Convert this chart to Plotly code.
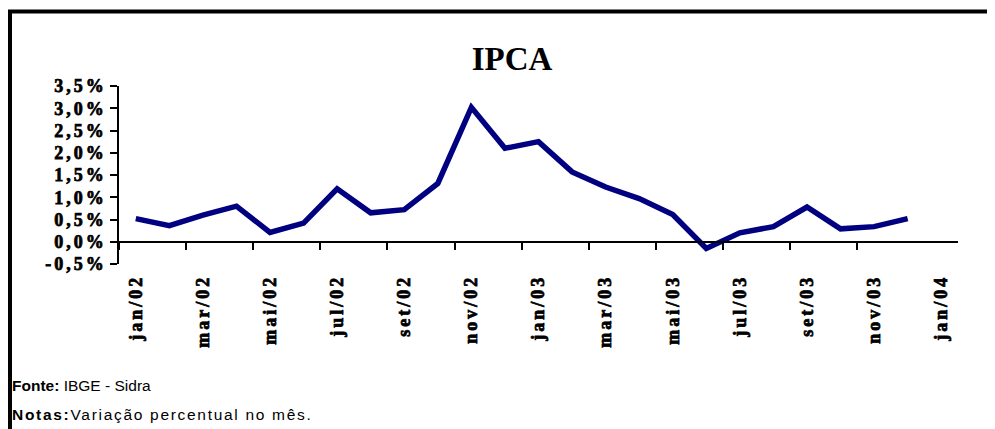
import plotly.graph_objects as go

# ---- data ----
months = ["jan/02", "fev/02", "mar/02", "abr/02", "mai/02", "jun/02", "jul/02", "ago/02",
          "set/02", "out/02", "nov/02", "dez/02", "jan/03", "fev/03", "mar/03", "abr/03",
          "mai/03", "jun/03", "jul/03", "ago/03", "set/03", "out/03", "nov/03", "dez/03",
          "jan/04"]
ipca = [0.52, 0.36, 0.60, 0.80, 0.21, 0.42, 1.19, 0.65, 0.72, 1.31, 3.02, 2.10,
        2.25, 1.57, 1.23, 0.97, 0.61, -0.15, 0.20, 0.34, 0.78, 0.29, 0.34, 0.52]
x_tick_labels = months[::2]
y_tick_values = [-0.5, 0.0, 0.5, 1.0, 1.5, 2.0, 2.5, 3.0, 3.5]
y_tick_labels = ["-0,5%", "0,0%", "0,5%", "1,0%", "1,5%", "2,0%", "2,5%", "3,0%", "3,5%"]
title_text = "IPCA"
source_label, source_text = "Fonte:", "IBGE - Sidra"
notes_label, notes_text = "Notas:", "Variação percentual no mês."

# ---- positions derived from categories ----
x_idx = [months.index(m) for m in months[:len(ipca)]]
label_idx = [months.index(m) for m in x_tick_labels]
boundary_idx = [i - 0.5 for i in label_idx[:-1]]

SERIF = "Liberation Serif"
SANS = "Liberation Sans, Arial, sans-serif"

W, H = 987, 421          # page adds an 8px body margin
L, R, T, B = 111, 37, 78, 165
PW, PH = W - L - R, H - T - B


def px_x(v):
    return (v - L) / PW


def px_y(v):
    return (H - B - v) / PH


def heavy(t, s=3):
    # letter-spaced label; a thin stroke keeps the heavy (bold) look
    return (f'<span style="letter-spacing:{s}px;font-weight:bold;'
            f'stroke:black;stroke-width:0.75px">{t}</span>')


fig = go.Figure()
fig.add_trace(go.Scatter(
    x=x_idx, y=ipca, mode="lines",
    line=dict(color="#000080", width=5.5),
    hoverinfo="skip", showlegend=False,
))

y_lo, y_hi = y_tick_values[0], y_tick_values[-1]
zero_pos = (0 - y_lo) / (y_hi - y_lo)

fig.update_layout(
    width=W, height=H,
    margin=dict(l=L, r=R, t=T, b=B),
    paper_bgcolor="white", plot_bgcolor="white",
    showlegend=False,
    title=dict(text=f"<b>{title_text}</b>", x=504 / W, xanchor="center",
               xref="container", y=1 - 50 / H, yref="container", yanchor="middle",
               font=dict(family=SERIF, size=33, color="black")),
    xaxis=dict(
        type="linear", range=[-0.5, len(months) - 0.5],
        anchor="free", position=zero_pos,
        showline=True, linecolor="black", linewidth=1.5,
        showgrid=False, zeroline=False,
        tickmode="array", tickvals=label_idx,
        ticktext=[heavy(t) for t in x_tick_labels],
        ticks="", tickangle=-90,
        ticklabelstandoff=25,
        tickfont=dict(family=SERIF, size=18, color="black", weight=700),
        minor=dict(tickmode="array", tickvals=boundary_idx, ticks="outside",
                   ticklen=7, tickwidth=2, tickcolor="black", showgrid=False),
    ),
    yaxis=dict(
        range=[y_lo, y_hi],
        showline=True, linecolor="black", linewidth=1.5,
        showgrid=False, zeroline=False,
        tickmode="array", tickvals=y_tick_values,
        ticktext=[heavy(t) for t in y_tick_labels],
        ticks="outside", ticklen=7, tickwidth=1.5, tickcolor="black",
        tickfont=dict(family=SERIF, size=18, color="black", weight=700),
    ),
    shapes=[dict(type="rect", xref="paper", yref="paper",
                 x0=px_x(2), x1=px_x(1010),
                 y0=px_y(450), y1=px_y(3.5),
                 line=dict(color="black", width=4), fillcolor="rgba(0,0,0,0)",
                 layer="below")],
    annotations=[
        dict(text=f"<b>{source_label}</b> {source_text}", xref="paper", yref="paper",
             x=px_x(2), y=px_y(377), xanchor="left", yanchor="middle",
             showarrow=False, font=dict(family=SANS, size=15.5, color="black")),
        dict(text=f'<span style="letter-spacing:1.7px"><b>{notes_label}</b>{notes_text}</span>',
             xref="paper", yref="paper",
             x=px_x(2), y=px_y(406), xanchor="left", yanchor="middle",
             showarrow=False, font=dict(family=SANS, size=15.5, color="black")),
    ],
)

fig.write_html("out.html")
